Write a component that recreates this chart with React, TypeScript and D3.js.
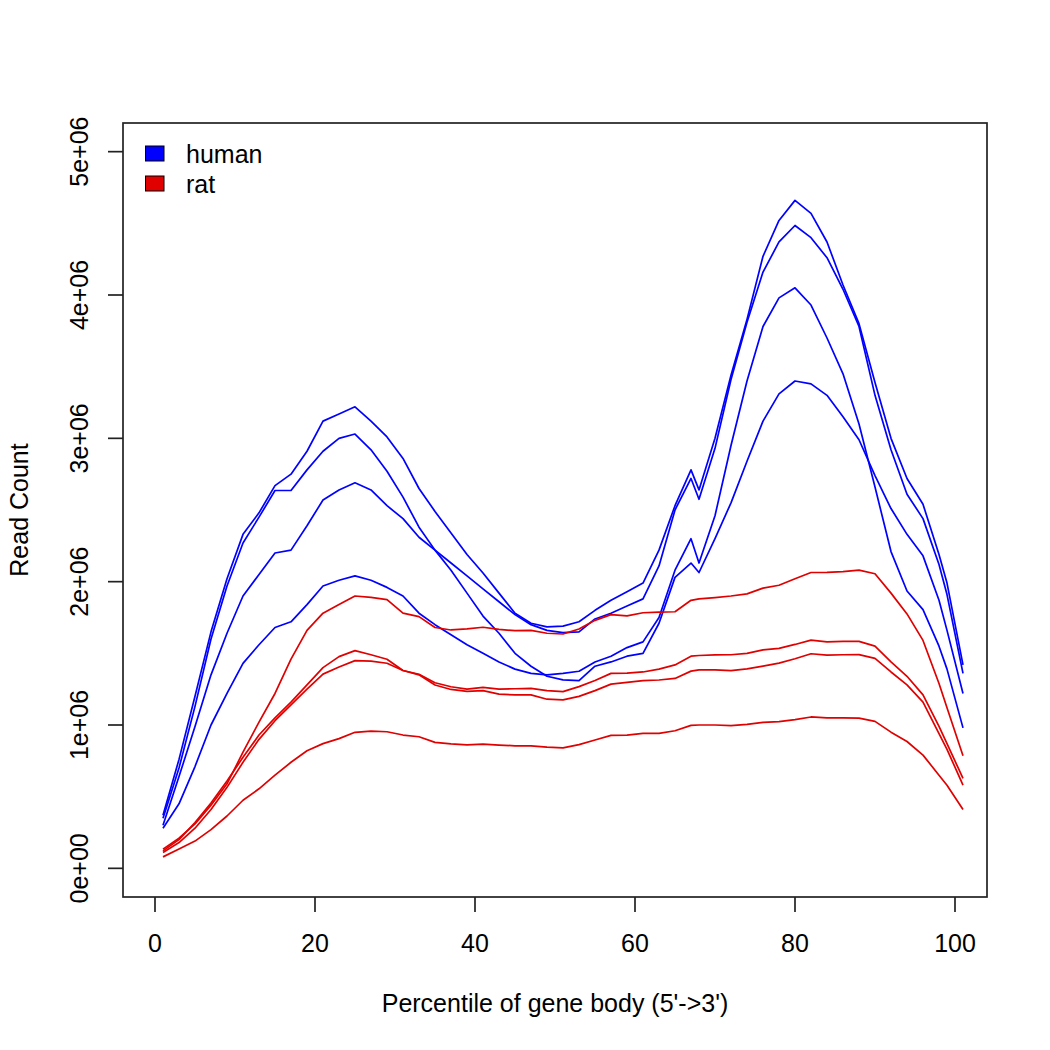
import * as d3 from "d3";

// percentile positions (shared by every sample)
const pct = [1, 3, 5, 7, 9, 11, 13, 15, 17, 19, 21, 23, 25, 27, 29, 31, 33, 35, 37, 39, 41, 43, 45, 47, 49, 51, 53, 55, 57, 59, 61, 63, 65, 67, 68, 70, 72, 74, 76, 78, 80, 82, 84, 86, 88, 90, 92, 94, 96, 98, 99, 101];

// read counts, in millions
const human1 = [0.37, 0.76, 1.2, 1.65, 2.02, 2.33, 2.48, 2.67, 2.75, 2.91, 3.12, 3.17, 3.22, 3.12, 3.01, 2.86, 2.65, 2.49, 2.34, 2.19, 2.06, 1.92, 1.78, 1.71, 1.685, 1.69, 1.72, 1.8, 1.87, 1.93, 1.99, 2.22, 2.53, 2.78, 2.64, 3.0, 3.44, 3.83, 4.27, 4.52, 4.66, 4.57, 4.37, 4.07, 3.8, 3.39, 3.0, 2.72, 2.54, 2.19, 1.99, 1.42];
const human2 = [0.3, 0.64, 0.99, 1.35, 1.64, 1.9, 2.05, 2.2, 2.22, 2.39, 2.57, 2.64, 2.69, 2.64, 2.53, 2.44, 2.31, 2.22, 2.13, 2.04, 1.95, 1.86, 1.77, 1.7, 1.66, 1.645, 1.65, 1.74, 1.78, 1.83, 1.88, 2.11, 2.5, 2.72, 2.575, 2.93, 3.41, 3.81, 4.16, 4.37, 4.485, 4.4, 4.26, 4.04, 3.78, 3.3, 2.92, 2.61, 2.44, 2.12, 1.91, 1.36];
const human3 = [0.35, 0.7, 1.13, 1.6, 1.97, 2.27, 2.45, 2.636, 2.636, 2.78, 2.91, 3.0, 3.03, 2.92, 2.77, 2.59, 2.38, 2.22, 2.08, 1.92, 1.76, 1.64, 1.5, 1.41, 1.34, 1.315, 1.31, 1.41, 1.44, 1.48, 1.5, 1.71, 2.03, 2.13, 2.064, 2.3, 2.55, 2.84, 3.12, 3.31, 3.4, 3.38, 3.3, 3.15, 2.99, 2.74, 2.51, 2.33, 2.18, 1.87, 1.66, 1.22];
const human4 = [0.28, 0.45, 0.71, 1.0, 1.22, 1.43, 1.56, 1.68, 1.72, 1.84, 1.97, 2.01, 2.04, 2.01, 1.96, 1.9, 1.78, 1.7, 1.63, 1.56, 1.5, 1.44, 1.39, 1.36, 1.35, 1.36, 1.375, 1.44, 1.48, 1.54, 1.58, 1.75, 2.08, 2.3, 2.13, 2.46, 2.95, 3.4, 3.78, 3.98, 4.05, 3.93, 3.7, 3.45, 3.1, 2.66, 2.21, 1.935, 1.805, 1.55, 1.39, 0.98];
const rat1 = [0.134, 0.21, 0.31, 0.44, 0.59, 0.81, 1.02, 1.22, 1.46, 1.66, 1.78, 1.84, 1.9, 1.89, 1.875, 1.78, 1.756, 1.68, 1.663, 1.67, 1.682, 1.667, 1.658, 1.66, 1.64, 1.635, 1.67, 1.73, 1.77, 1.761, 1.783, 1.787, 1.79, 1.87, 1.88, 1.889, 1.9, 1.915, 1.955, 1.975, 2.02, 2.064, 2.065, 2.07, 2.08, 2.055, 1.92, 1.775, 1.59, 1.29, 1.12, 0.786];
const rat2 = [0.122, 0.2, 0.32, 0.455, 0.61, 0.775, 0.93, 1.05, 1.16, 1.28, 1.4, 1.477, 1.519, 1.49, 1.459, 1.38, 1.354, 1.295, 1.267, 1.25, 1.262, 1.25, 1.253, 1.256, 1.24, 1.233, 1.268, 1.31, 1.36, 1.362, 1.37, 1.39, 1.419, 1.48, 1.485, 1.489, 1.49, 1.5, 1.524, 1.535, 1.562, 1.592, 1.58, 1.583, 1.583, 1.55, 1.44, 1.34, 1.21, 0.99, 0.87, 0.628];
const rat3 = [0.111, 0.18, 0.28, 0.41, 0.565, 0.74, 0.9, 1.03, 1.14, 1.25, 1.355, 1.405, 1.449, 1.445, 1.431, 1.38, 1.35, 1.279, 1.248, 1.235, 1.24, 1.215, 1.21, 1.21, 1.18, 1.175, 1.2, 1.24, 1.285, 1.298, 1.309, 1.314, 1.325, 1.376, 1.384, 1.384, 1.38, 1.391, 1.411, 1.432, 1.462, 1.497, 1.488, 1.49, 1.491, 1.465, 1.37, 1.28, 1.16, 0.94, 0.83, 0.581];
const rat4 = [0.08, 0.135, 0.19, 0.27, 0.365, 0.475, 0.555, 0.65, 0.74, 0.82, 0.87, 0.905, 0.949, 0.957, 0.953, 0.93, 0.918, 0.879, 0.868, 0.862, 0.867, 0.86, 0.855, 0.855, 0.845, 0.84, 0.863, 0.895, 0.928, 0.93, 0.942, 0.942, 0.96, 0.997, 1.0, 1.0, 0.996, 1.005, 1.018, 1.023, 1.038, 1.056, 1.05, 1.05, 1.048, 1.025, 0.95, 0.885, 0.79, 0.65, 0.58, 0.411];

const humanSeries = [human1, human2, human3, human4];
const ratSeries = [rat1, rat2, rat3, rat4];

const xTicks = [0, 20, 40, 60, 80, 100];
const yTicks = [0, 1e6, 2e6, 3e6, 4e6, 5e6];
const yTickLabels = ["0e+00", "1e+06", "2e+06", "3e+06", "4e+06", "5e+06"];
const legendLabels = ["human", "rat"];

const BLUE = "#0000FF";
const RED = "#E00000";
const FONT = "'Liberation Sans', Arial, Helvetica, sans-serif";

export default function App() {
  const width = 1050;
  const height = 1050;
  const box = { left: 123, right: 987, top: 123, bottom: 897 };

  // R style axes: 4% padding around xlim c(0,100), ylim c(0,5e6)
  const x = d3.scaleLinear().domain([-4, 104]).range([box.left, box.right]);
  const y = d3.scaleLinear().domain([-0.2e6, 5.2e6]).range([box.bottom, box.top]);

  const line = d3
    .line<number>()
    .x((_, i) => x(pct[i]))
    .y(d => y(d * 1e6));

  const tick = 15;

  return (
    <svg
      width={width}
      height={height}
      style={{ position: "absolute", left: 0, top: 0, background: "#fff" }}
      fontFamily={FONT}
    >
      <rect x={0} y={0} width={width} height={height} fill="#fff" />

      {/* ---------------- LINES ---------------- */}
      {humanSeries.map((s, i) => (
        <path key={"h" + i} d={line(s) ?? ""} fill="none" stroke={BLUE} strokeWidth={1.7} strokeLinejoin="round" />
      ))}
      {ratSeries.map((s, i) => (
        <path key={"r" + i} d={line(s) ?? ""} fill="none" stroke={RED} strokeWidth={1.7} strokeLinejoin="round" />
      ))}

      {/* ---------------- BOX ---------------- */}
      <rect
        x={box.left}
        y={box.top}
        width={box.right - box.left}
        height={box.bottom - box.top}
        fill="none"
        stroke="#222"
        strokeWidth={1.7}
      />

      {/* ---------------- X AXIS ---------------- */}
      {xTicks.map(t => (
        <g key={"x" + t}>
          <line x1={x(t)} x2={x(t)} y1={box.bottom} y2={box.bottom + tick} stroke="#222" strokeWidth={1.7} />
          <text x={x(t)} y={952} textAnchor="middle" fontSize={25}>
            {t}
          </text>
        </g>
      ))}

      {/* ---------------- Y AXIS ---------------- */}
      {yTicks.map((t, i) => (
        <g key={"y" + t}>
          <line x1={box.left - tick} x2={box.left} y1={y(t)} y2={y(t)} stroke="#222" strokeWidth={1.7} />
          <text
            transform={`translate(87.5,${y(t)}) rotate(-90)`}
            textAnchor="middle"
            fontSize={25}
          >
            {yTickLabels[i]}
          </text>
        </g>
      ))}

      {/* ---------------- TITLES ---------------- */}
      <text x={(box.left + box.right) / 2} y={1012} textAnchor="middle" fontSize={25}>
        Percentile of gene body (5'-&gt;3')
      </text>
      <text transform={`translate(28,${(box.top + box.bottom) / 2}) rotate(-90)`} textAnchor="middle" fontSize={25}>
        Read Count
      </text>

      {/* ---------------- LEGEND ---------------- */}
      {legendLabels.map((lab, i) => (
        <g key={lab} transform={`translate(0,${i * 30})`}>
          <rect x={145.5} y={146} width={18.5} height={15} fill={i === 0 ? BLUE : RED} stroke="#000" strokeWidth={1} />
          <text x={186} y={162.5} fontSize={25}>
            {lab}
          </text>
        </g>
      ))}
    </svg>
  );
}
